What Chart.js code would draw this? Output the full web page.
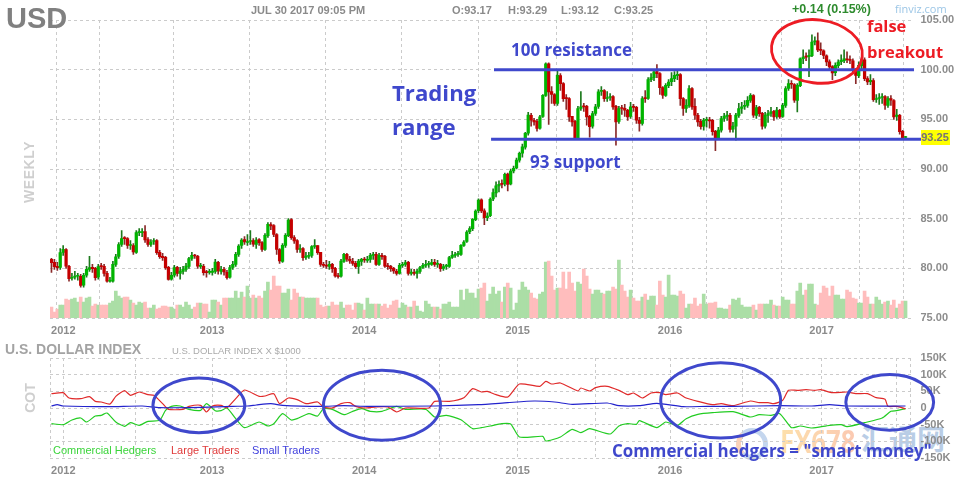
<!DOCTYPE html>
<html>
<head>
<meta charset="utf-8">
<script src="https://cdn.jsdelivr.net/npm/chart.js@4"></script>
<style>
  html, body { margin: 0; padding: 0; background: #fff; }
  #page { position: relative; width: 960px; height: 478px; overflow: hidden; font-family: "Liberation Sans", Arial, sans-serif; }
  canvas { position: absolute; left: 0; }
  .t { position: absolute; white-space: nowrap; font-weight: bold; line-height: 1; transform-origin: left center; }
  .note { font-family: "Open Sans", sans-serif; font-weight: 700; color: #3f48cc; }
  .red { font-family: "Open Sans", sans-serif; font-weight: 700; color: #ed1c24; }
  .head { color: #8a8a8a; font-size: 11px; }
</style>
</head>
<body>
<div id="page">
  <div style="position:absolute;left:736px;top:428px;width:22px;height:22px;border:5px solid #c4d6ee;border-left-color:#fbd2b8;border-radius:50%"></div>
  <div class="t" style="left:780px;top:424px;font-size:33px;transform:scaleX(.78);background:linear-gradient(90deg,#fde0ab,#fbc9b2);-webkit-background-clip:text;color:transparent;font-family:'Open Sans'">FX678</div>
  <div class="t" style="left:861px;top:424px;font-size:28px;color:#b9cde6;font-family:'Noto Sans CJK SC'">汇通网</div>
  <canvas id="price" width="960" height="340" style="top:0"></canvas>
  <canvas id="cot" width="960" height="143" style="top:335px"></canvas>

  <div class="t" style="left:6px;top:4px;font-size:29px;color:#808080">USD</div>
  <div class="t head" style="left:251px;top:5px">JUL 30 2017 09:05 PM</div>
  <div class="t head" style="left:452px;top:5px">O:93.17</div>
  <div class="t head" style="left:508px;top:5px">H:93.29</div>
  <div class="t head" style="left:561px;top:5px">L:93.12</div>
  <div class="t head" style="left:614px;top:5px">C:93.25</div>
  <div class="t" style="left:792px;top:3px;font-size:12.5px;color:#2e8b2e">+0.14 (0.15%)</div>
  <div class="t" style="left:895px;top:3px;font-size:11px;font-weight:normal;color:#9cc6e6;font-family:'Open Sans'">finviz.com</div>
  <div class="t" style="left:-14px;top:165px;font-size:14px;color:#cfcfcf;transform:rotate(-90deg);transform-origin:center;width:86px;text-align:center;letter-spacing:.6px">WEEKLY</div>
  <div class="t" style="left:921px;top:130px;width:29px;height:15px;line-height:15px;background:#ffff00;color:#777;font-size:11px;">93.25</div>

  <div class="t note" style="left:511px;top:41px;font-size:17px">100 resistance</div>
  <div class="t note" style="left:530px;top:153px;font-size:17px">93 support</div>
  <div class="t note" style="left:392px;top:82px;font-size:22.2px">Trading</div>
  <div class="t note" style="left:392px;top:116px;font-size:22.2px">range</div>
  <div class="t red" style="left:867px;top:18px;font-size:16.5px">false</div>
  <div class="t red" style="left:867px;top:44px;font-size:16.5px">breakout</div>

  <div class="t" style="left:5px;top:342px;font-size:14px;color:#a3a3a3">U.S. DOLLAR INDEX</div>
  <div class="t" style="left:172px;top:346px;font-size:9.5px;font-weight:normal;color:#aaa">U.S. DOLLAR INDEX X $1000</div>
  <div class="t" style="left:10px;top:391px;font-size:14px;color:#cfcfcf;transform:rotate(-90deg);transform-origin:center;width:40px;text-align:center">COT</div>
  <div class="t" style="left:53px;top:445px;font-size:11px;font-weight:normal;color:#3ad43a">Commercial Hedgers</div>
  <div class="t" style="left:171px;top:445px;font-size:11px;font-weight:normal;color:#e03a3a">Large Traders</div>
  <div class="t" style="left:252px;top:445px;font-size:11px;font-weight:normal;color:#4040dd">Small Traders</div>

  <div class="t note" style="left:612px;top:442px;font-size:17.6px;transform:scaleX(.96)">Commercial hedgers = "smart money"</div>
</div>

<script>
const opens = [
  80.9,80.6,80.2,80.1,81.6,81.9,80.2,79.0,79.1,79.2,
  79.2,78.3,79.3,79.9,80.1,80.0,79.1,80.2,80.2,79.5,
  78.7,78.7,80.4,81.2,82.4,83.0,83.0,82.3,82.3,81.6,
  83.6,83.6,83.7,82.9,82.4,82.7,82.8,81.6,81.2,81.1,
  80.1,78.9,79.3,80.1,79.5,79.7,79.9,80.2,81.0,81.3,
  81.2,80.2,80.2,79.6,79.6,79.6,79.7,80.6,79.7,79.9,
  79.6,79.1,80.1,80.4,81.4,82.3,82.9,82.6,82.7,82.8,
  82.4,82.9,82.6,81.9,83.3,84.4,84.3,83.4,81.9,80.7,
  82.3,83.3,84.9,83.1,82.8,81.9,82.0,81.1,81.2,81.3,
  82.2,82.3,81.6,80.4,80.3,80.2,80.4,80.0,79.2,79.2,
  80.7,81.4,80.9,80.7,80.5,80.2,80.7,80.9,80.8,80.9,
  81.3,81.4,80.4,81.3,81.2,80.2,80.2,80.0,79.7,79.5,
  80.3,80.4,80.6,79.5,79.6,79.5,79.7,80.1,80.3,80.4,
  80.4,80.6,80.4,80.4,80.0,80.2,80.2,81.1,81.3,81.4,
  81.4,82.3,82.7,83.7,84.0,84.9,85.8,86.9,85.8,85.1,
  85.3,87.0,87.6,88.3,88.5,88.5,89.5,88.5,89.8,90.1,
  90.9,91.6,92.2,93.6,95.4,94.9,94.8,94.1,95.3,97.4,
  100.6,97.8,97.5,96.6,99.4,98.6,97.1,97.1,95.3,94.8,
  93.1,96.1,96.3,96.3,95.3,94.3,95.6,96.3,97.8,97.9,
  97.1,97.2,97.3,96.3,94.8,96.1,96.1,95.9,95.3,96.3,
  96.2,94.9,94.6,97.1,97.1,99.0,99.2,99.8,99.6,98.2,
  97.4,98.4,98.8,99.1,99.4,99.5,97.1,96.1,96.4,98.1,
  96.3,95.4,94.8,94.3,94.9,94.9,94.9,93.8,93.1,93.9,
  95.1,95.3,95.4,94.0,94.3,95.4,96.1,96.3,96.4,96.9,
  97.4,95.4,96.2,95.6,94.3,95.4,95.6,95.8,95.3,95.9,
  95.3,96.4,98.1,98.6,98.5,96.9,98.4,101.1,101.3,101.3,
  101.4,102.8,102.9,102.0,101.9,101.4,100.8,100.3,99.7,100.4,
  100.8,100.9,101.1,101.0,100.9,99.9,99.4,100.4,101.0,99.1,
  98.8,98.9,97.0,97.1,97.2,97.3,96.4,97.1,96.9,95.3,
  95.4,93.8,93.17
];
const highs = [
  81.0,80.9,80.6,82.0,82.3,82.0,80.3,79.5,79.7,79.5,
  79.4,79.5,80.2,81.2,80.4,80.1,80.4,80.5,80.4,79.7,
  79.1,80.7,81.4,82.6,83.8,83.2,83.1,82.8,82.5,83.8,
  84.0,84.0,84.3,83.1,82.9,83.0,82.9,81.8,81.5,81.2,
  80.2,79.6,80.3,80.2,80.1,80.2,80.5,81.1,81.6,81.4,
  81.3,80.5,80.4,79.8,79.9,80.0,80.9,80.7,80.2,80.1,
  79.8,80.3,80.7,81.6,82.4,83.0,83.2,83.4,83.8,83.0,
  83.1,83.0,82.7,83.5,84.6,84.6,84.4,83.5,82.0,82.5,
  83.5,85.0,85.0,83.3,82.9,82.4,82.1,81.6,81.6,82.3,
  82.9,82.3,81.6,80.6,80.8,80.7,80.5,80.1,79.5,80.9,
  81.5,81.5,81.2,81.0,80.7,80.9,81.0,81.1,81.2,81.5,
  81.6,81.6,81.5,81.5,81.3,80.5,80.3,80.1,79.9,80.5,
  80.6,80.8,80.7,79.9,79.9,79.9,80.2,80.5,80.8,80.7,
  80.9,80.9,80.8,80.5,80.4,80.4,81.2,81.7,81.6,81.7,
  82.4,82.8,83.8,84.2,85.0,85.9,87.0,87.0,86.0,85.6,
  87.1,88.0,88.7,88.8,88.9,89.6,89.6,90.0,90.3,91.1,
  91.7,92.5,93.7,95.7,95.6,95.1,95.0,95.4,97.5,100.7,
  100.7,98.3,97.6,100.0,99.6,98.7,97.5,97.2,95.3,94.9,
  96.3,97.8,96.6,96.4,95.4,95.8,96.5,98.0,98.3,98.0,
  97.8,97.6,97.4,96.4,96.3,96.4,96.5,96.0,96.7,96.5,
  96.3,95.2,97.3,97.9,99.2,99.6,100.0,100.5,99.7,98.3,
  98.6,99.0,99.7,99.8,100.0,99.6,97.2,97.0,98.4,98.2,
  97.1,95.6,95.0,95.1,95.2,95.2,95.0,93.9,94.2,95.3,
  95.6,95.8,95.6,94.7,95.6,96.6,96.7,96.9,97.3,97.6,
  97.5,96.4,96.3,95.7,95.7,95.9,96.2,95.9,96.2,96.0,
  96.6,98.3,99.0,98.9,98.6,98.6,101.2,102.0,101.7,102.0,
  103.5,103.3,103.7,102.7,102.0,101.5,101.0,100.4,100.7,101.0,
  101.5,102.0,101.8,101.4,101.1,100.1,100.8,101.2,101.2,99.3,
  99.5,99.1,97.5,97.6,97.6,97.4,97.3,97.4,97.0,96.0,
  95.5,93.9,93.29
];
const lows = [
  79.6,79.9,79.8,79.9,81.3,80.0,78.7,78.8,78.9,78.8,
  78.1,78.1,79.1,79.7,79.6,78.8,78.9,79.9,79.2,78.6,
  78.6,78.6,80.2,81.0,82.2,82.4,82.0,81.9,81.4,81.5,
  83.3,83.2,82.6,82.2,82.2,82.4,81.4,81.0,80.8,79.9,
  78.8,78.8,79.1,79.2,78.9,79.4,79.7,80.0,80.8,81.0,
  80.0,80.0,79.3,79.1,79.4,79.3,79.5,79.4,79.4,79.3,
  78.9,79.0,79.9,80.2,81.2,82.0,82.4,82.3,82.4,82.2,
  82.0,82.3,81.7,81.8,83.1,83.9,83.2,81.4,80.5,80.6,
  82.1,83.2,82.9,82.5,81.6,81.6,80.8,80.9,81.0,81.1,
  82.0,81.4,80.2,80.1,80.0,79.9,79.6,79.1,79.0,79.1,
  80.6,80.7,80.5,80.3,80.0,79.5,80.3,80.6,80.6,80.6,
  80.9,80.3,80.3,80.9,80.1,79.9,79.7,79.5,79.3,79.4,
  80.1,80.2,79.3,79.3,79.3,79.0,79.5,80.0,80.1,80.1,
  80.3,80.2,80.1,79.7,79.8,79.9,80.1,81.0,81.1,81.2,
  81.3,82.2,82.6,83.5,83.8,84.8,85.6,85.6,84.4,84.8,
  85.2,86.8,87.2,87.7,88.1,88.3,87.8,88.4,89.6,90.0,
  90.7,91.2,92.0,93.4,94.3,94.4,93.8,94.0,95.2,97.3,
  94.5,96.6,96.4,96.4,97.9,96.8,96.0,94.8,94.3,93.0,
  93.0,95.9,95.8,94.4,93.2,94.1,95.4,96.1,97.4,96.8,
  96.8,96.9,96.0,92.4,94.6,95.5,95.3,94.9,95.1,95.8,
  94.6,93.8,94.4,96.7,97.0,98.8,98.9,99.2,97.5,97.1,
  97.3,98.2,98.4,98.8,99.0,96.4,95.4,95.7,96.2,96.0,
  95.0,94.3,94.0,93.9,94.2,94.1,93.4,91.85,93.0,93.7,
  94.8,94.9,93.7,93.7,92.9,95.2,95.6,96.0,96.2,96.7,
  95.2,95.1,95.3,94.0,94.1,94.7,95.3,94.9,95.1,95.1,
  95.2,96.2,97.9,98.1,96.7,95.75,98.3,100.6,100.9,99.3,
  101.3,102.5,101.8,101.5,101.1,100.4,99.9,99.0,99.4,100.2,
  100.5,100.7,100.7,100.6,99.7,98.6,99.2,100.1,98.9,98.5,
  98.5,96.8,96.7,96.5,96.6,96.0,96.2,96.4,95.0,94.9,
  93.5,93.0,93.12
];
const closes = [
  80.57,80.17,80.07,81.58,81.91,80.23,78.96,79.06,79.23,79.23,
  78.29,79.3,79.9,80.07,79.97,79.06,80.17,80.17,79.5,78.72,
  78.72,80.4,81.17,82.4,82.99,82.99,82.3,82.3,81.64,83.6,
  83.6,83.66,82.85,82.4,82.65,82.75,81.58,81.17,81.07,80.07,
  78.89,79.3,80.07,79.5,79.73,79.9,80.23,80.97,81.31,81.24,
  80.23,80.23,79.56,79.56,79.63,79.73,80.64,79.73,79.9,79.63,
  79.06,80.07,80.4,81.41,82.25,82.85,82.65,82.65,82.75,82.42,
  82.85,82.58,81.91,83.32,84.43,84.26,83.42,81.91,80.74,82.32,
  83.32,84.87,83.09,82.75,81.91,81.98,81.07,81.24,81.31,82.18,
  82.25,81.58,80.4,80.3,80.23,80.4,79.97,79.23,79.16,80.74,
  81.41,80.91,80.74,80.5,80.17,80.74,80.91,80.84,80.91,81.31,
  81.41,80.4,81.31,81.17,80.23,80.17,79.97,79.73,79.5,80.3,
  80.4,80.57,79.5,79.63,79.5,79.73,80.07,80.3,80.4,80.4,
  80.57,80.4,80.4,79.97,80.17,80.23,81.07,81.31,81.41,81.41,
  82.32,82.65,83.66,83.99,84.93,85.77,86.88,85.77,85.1,85.27,
  86.95,87.62,88.3,88.46,88.46,89.47,88.46,89.8,90.07,90.9,
  91.57,92.24,93.58,95.42,94.92,94.75,94.08,95.25,97.42,100.6,
  97.76,97.5,96.6,99.43,98.6,97.09,97.09,95.25,94.75,93.08,
  96.09,96.26,96.26,95.25,94.25,95.58,96.26,97.76,97.93,97.09,
  97.19,97.26,96.26,94.75,96.09,96.09,95.92,95.25,96.26,96.19,
  94.92,94.58,97.09,97.09,99,99.2,99.77,99.6,98.19,97.42,
  98.43,98.76,99.1,99.43,99.53,97.09,96.09,96.42,98.09,96.26,
  95.42,94.75,94.25,94.92,94.92,94.85,93.75,93.08,93.91,95.08,
  95.32,95.42,93.98,94.31,95.42,96.09,96.26,96.42,96.92,97.42,
  95.42,96.19,95.58,94.31,95.42,95.58,95.75,95.25,95.92,95.25,
  96.42,98.09,98.6,98.53,96.92,98.43,101.1,101.27,101.27,101.44,
  102.78,102.88,102,101.94,101.44,100.77,100.27,99.67,100.43,100.77,
  100.94,101.1,101,100.94,99.93,99.43,100.43,101,99.1,98.76,
  98.93,96.99,97.09,97.19,97.26,96.42,97.09,96.92,95.25,95.42,
  93.75,93.08,93.25
];
const volumes = [
  11,6,9,13,13,19,18,19,20,16,
  21,16,20,21,12,14,13,13,13,13,
  15,17,27,22,20,21,21,18,15,13,
  16,15,16,10,10,13,9,10,12,12,
  11,11,9,13,13,11,16,13,9,11,
  15,15,14,14,6,18,18,16,13,20,
  20,20,20,27,20,26,21,32,20,23,
  20,22,20,27,36,28,42,32,32,25,
  25,29,18,29,25,21,21,20,20,20,
  20,20,13,11,12,12,16,13,13,16,
  10,13,13,8,15,15,14,8,20,14,
  14,14,14,12,14,10,13,17,18,10,
  15,13,11,11,17,12,7,6,17,14,
  11,11,11,9,14,14,16,11,11,11,
  28,18,29,25,25,20,29,30,35,17,
  24,31,24,27,16,31,35,30,8,15,
  28,36,31,28,25,20,19,24,26,56,
  57,42,28,30,30,46,29,46,35,27,
  36,34,49,42,29,24,28,28,25,24,
  27,27,31,29,58,33,27,21,28,20,
  17,17,21,24,18,22,22,13,37,23,
  21,43,23,23,22,27,24,10,14,14,
  20,12,14,24,14,15,15,16,10,10,
  9,9,13,19,18,20,13,11,11,11,
  13,8,14,14,14,14,18,13,12,12,
  21,18,18,14,14,27,35,23,28,34,
  34,14,13,25,32,30,22,32,23,23,
  19,19,28,26,20,19,15,15,27,21,
  14,14,21,18,14,16,17,13,18,10,
  14,17,17
];

const priceTicks = [75, 80, 85, 90, 95, 100, 105];
const cotTicks = [-150, -100, -50, 0, 50, 100, 150];
const weekTicks = [-0.5, 4.05, 28.6, 54.9, 80.5, 106.9, 132.5, 159.4, 186, 211.5, 236.1, 263.3, 289, 293.7];
const weekTickLabels = ["", "2012", "", "2013", "", "2014", "", "2015", "", "2016", "", "2017", "", ""];

const largeWeeks = [0,4,6,10,13,15,17,20,22,25,27,30,33,35,38,40,45,47,51,53,55,58,60,63,66,71,73,76,78,81,84,87,91,93,96,99,102,104,107,111,115,118,121,129,131,136,141,144,147,149,152,156,160,167,169,171,174,180,181,184,186,190,194,197,199,202,205,208,210,214,217,221,226,229,233,239,242,245,247,250,252,255,258,261,263,267,272,275,279,282,285,286,289,292];
const largeValues = [43,46,30,28,34,20,18,12,35,52,38,48,40,38,13,-4,-4,5,8,-12,6,8,1,28,54,35,36,43,13,30,25,13,18,3,0,13,16,5,0,3,3,-12,0,0,20,20,31,58,48,50,40,33,72,65,80,72,75,51,60,51,61,65,53,40,45,30,45,46,40,45,30,20,10,13,7,21,16,16,13,23,53,53,55,53,55,46,48,43,43,31,26,5,5,-2];
const commercialWeeks = [0,4,7,10,12,15,17,19,22,25,27,30,33,37,39,41,44,47,51,53,56,58,60,63,66,71,74,76,79,82,84,88,91,93,96,100,103,106,109,113,118,121,128,131,135,140,144,147,150,154,157,160,168,169,174,178,181,184,191,194,197,200,201,207,210,214,217,221,226,233,239,242,246,249,253,256,260,266,270,272,278,284,287,289,292];
const commercialValues = [-47,-50,-36,-30,-42,-24,-22,-15,-42,-55,-44,-52,-40,-37,-7,5,6,-4,-7,13,-8,-8,0,-32,-59,-42,-54,-47,-17,-36,-32,-17,-24,-2,-4,-20,-10,-2,-10,-10,5,-4,-4,-27,-22,-35,-62,-59,-54,-47,-48,-87,-85,-99,-87,-64,-74,-62,-78,-54,-47,-49,-38,-59,-42,-52,-32,-19,-14,-11,-27,-20,-22,-17,-59,-54,-60,-52,-50,-56,-44,-30,-10,-8,-2];
const smallWeeks = [0,2,4,20,31,37,51,62,67,70,75,79,92,100,108,131,146,156,165,172,178,190,194,201,207,216,224,233,249,260,266,272,292];
const smallValues = [6,10,6,4,6,1,2,5,6,9,13,8,5,7,5,6,10,16,21,18,11,15,7,7,14,4,5,5,7,6,10,6,6];

// hand drawn rings and lines from the original screenshot
const falseBreakRing = { week: 261.7, value: 101.84, weekRadius: 15.6, valueRadius: 3.18, tilt: 0.12 };
const cotRings = [
  { week: 50.4, value: 8, weekRadius: 15.7, valueRadius: 82, tilt: 0 },
  { week: 113, value: 8, weekRadius: 20, valueRadius: 105, tilt: 0 },
  { week: 228.8, value: 23, weekRadius: 20.5, valueRadius: 113, tilt: 0 },
  { week: 286.6, value: 17, weekRadius: 15, valueRadius: 83.5, tilt: 0 },
];
const resistanceWeeks = [151.3, 294.9];
const resistanceValues = [100, 100];
const supportWeeks = [150.3, 299];
const supportValues = [93, 93];

const weeks = closes.map((c, i) => i);
const pairs = (xs, ys) => xs.map((x, i) => ({ x: x, y: ys[i] }));
const isUp = (i) => closes[i] >= opens[i];

const gridColor = "#cbcbcb";
const tickFont = { family: "Liberation Sans", size: 11, weight: "bold" };

const ringsPlugin = {
  id: "rings",
  afterDatasetsDraw(chart, args, opts) {
    const ctx = chart.ctx;
    const xs = chart.scales.x;
    const ys = chart.scales.y;
    ctx.save();
    ctx.strokeStyle = opts.color;
    ctx.lineWidth = opts.width;
    opts.items.forEach((r) => {
      const cx = xs.getPixelForValue(r.week);
      const cy = ys.getPixelForValue(r.value);
      const rx = Math.abs(xs.getPixelForValue(r.week + r.weekRadius) - cx);
      const ry = Math.abs(ys.getPixelForValue(r.value + r.valueRadius) - cy);
      ctx.beginPath();
      ctx.ellipse(cx, cy, rx, ry, r.tilt, 0, Math.PI * 2);
      ctx.stroke();
    });
    ctx.restore();
  },
};

function xAxis(height) {
  return {
    type: "linear",
    offset: false,
    min: -0.5,
    max: 293.7,
    afterBuildTicks(scale) {
      scale.ticks = weekTicks.map((v) => ({ value: v }));
    },
    afterFit(scale) {
      scale.height = height;
    },
    grid: { color: gridColor, drawTicks: false },
    border: { display: false, dash: [3, 3] },
    ticks: {
      autoSkip: false,
      maxRotation: 0,
      padding: 6,
      color: "#8c8c8c",
      font: tickFont,
      callback: (v) => weekTickLabels[weekTicks.indexOf(v)],
    },
  };
}

function yAxis(ticks, fmt) {
  return {
    position: "right",
    min: ticks[0],
    max: ticks[ticks.length - 1],
    afterBuildTicks(scale) {
      scale.ticks = ticks.map((v) => ({ value: v }));
    },
    afterFit(scale) {
      scale.width = 49.5;
    },
    grid: { color: gridColor, drawTicks: false },
    border: { display: false, dash: [3, 3] },
    ticks: { padding: 10, color: "#8c8c8c", font: tickFont, callback: fmt },
  };
}

Chart.defaults.animation = false;
Chart.defaults.devicePixelRatio = 1;

const priceChart = new Chart(document.getElementById("price"), {
  type: "bar",
  data: {
    datasets: [
      { type: "line", data: pairs(resistanceWeeks, resistanceValues), borderColor: "#3f48cc", borderWidth: 3, pointRadius: 0, clip: false },
      { type: "line", data: pairs(supportWeeks, supportValues), borderColor: "#3f48cc", borderWidth: 3, pointRadius: 0, clip: false },
      {
        label: "body",
        data: weeks.map((i) => ({ x: i, y: [opens[i], closes[i]] })),
        backgroundColor: weeks.map((i) => (isUp(i) ? "#00b400" : "#c40000")),
        barThickness: 2.6,
        minBarLength: 1,
        grouped: false,
      },
      {
        label: "wick",
        data: weeks.map((i) => ({ x: i, y: [lows[i], highs[i]] })),
        backgroundColor: weeks.map((i) => (isUp(i) ? "#1d7a1d" : "#8a2a2a")),
        barThickness: 1,
        grouped: false,
      },
      {
        label: "volume",
        yAxisID: "v",
        data: weeks.map((i) => ({ x: i, y: volumes[i] })),
        backgroundColor: weeks.map((i) => (isUp(i) ? "#abdea6" : "#ffbdbd")),
        barThickness: 3,
        grouped: false,
      },
    ],
  },
  options: {
    responsive: false,
    layout: { padding: { left: 50, top: 20, right: 0, bottom: 0 } },
    plugins: {
      legend: { display: false },
      tooltip: { enabled: false },
      rings: { items: [falseBreakRing], color: "#ed1c24", width: 2.8 },
    },
    scales: {
      x: xAxis(22),
      y: yAxis(priceTicks, (v) => v.toFixed(2)),
      v: { display: false, min: 0, max: 298 },
    },
  },
  plugins: [ringsPlugin],
});

const cotChart = new Chart(document.getElementById("cot"), {
  type: "line",
  data: {
    datasets: [
      { label: "Small Traders", data: pairs(smallWeeks, smallValues), borderColor: "#2222cc", borderWidth: 1.2, pointRadius: 0, tension: 0.2 },
      { label: "Large Traders", data: pairs(largeWeeks, largeValues), borderColor: "#e02a2a", borderWidth: 1.2, pointRadius: 0, tension: 0.2 },
      { label: "Commercial Hedgers", data: pairs(commercialWeeks, commercialValues), borderColor: "#22cc22", borderWidth: 1.2, pointRadius: 0, tension: 0.2 },
    ],
  },
  options: {
    responsive: false,
    layout: { padding: { left: 50, top: 23, right: 0, bottom: 0 } },
    plugins: {
      legend: { display: false },
      tooltip: { enabled: false },
      rings: { items: cotRings, color: "#3f48cc", width: 3 },
    },
    scales: {
      x: xAxis(20),
      y: yAxis(cotTicks, (v) => (v === 0 ? "0" : v + "K")),
    },
  },
  plugins: [ringsPlugin],
});
</script>
</body>
</html>
